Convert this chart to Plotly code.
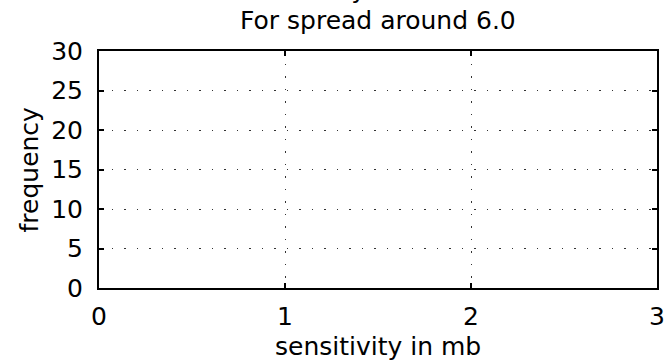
import plotly.graph_objects as go

# Histogram of sensitivities (no cases fall in this spread bin)
sensitivity_values = []

x_tick_vals = [0, 1, 2, 3]
y_tick_vals = [0, 5, 10, 15, 20, 25, 30]

title_line1 = "Sensitivity Distribution"
title_line2 = "For spread around 6.0"
x_label = "sensitivity in mb"
y_label = "frequency"

FONT = "DejaVu Sans"
FONT_SIZE = 25
W, H = 671, 361
L, R, T, B = 99, 6, 51, 73
plot_w = W - L - R
plot_h = H - T - B


def px_to_paper_x(px):
    return (px - L) / plot_w


def px_to_paper_y(py):
    return (H - B - py) / plot_h


fig = go.Figure()
fig.add_trace(go.Histogram(x=sensitivity_values, marker_color="#00008f",
                           xbins=dict(start=0, end=3, size=0.1)))

axis_common = dict(
    showline=True, linecolor="black", linewidth=2, mirror="ticks",
    ticks="inside", ticklen=5, tickwidth=1.5, tickcolor="black",
    showgrid=True, gridcolor="#333333", gridwidth=1, griddash="1.5px,11px",
    zeroline=False,
    tickfont=dict(family=FONT, size=FONT_SIZE, color="black"),
)

fig.update_xaxes(range=[0, 3], tickvals=x_tick_vals, ticklabelstandoff=5,
                 **axis_common)
fig.update_yaxes(range=[0, 30], tickvals=y_tick_vals, ticklabelstandoff=9,
                 **axis_common)

annotations = [
    dict(text=title_line1, x=0.5, y=px_to_paper_y(-11), yanchor="middle"),
    dict(text=title_line2, x=0.5, y=px_to_paper_y(21), yanchor="middle"),
    dict(text=x_label, x=0.5, y=px_to_paper_y(346), yanchor="middle"),
    dict(text=y_label, x=px_to_paper_x(29), y=0.5, yanchor="middle",
         textangle=-90),
]
for a in annotations:
    fig.add_annotation(xref="paper", yref="paper", showarrow=False,
                       xanchor="center",
                       font=dict(family=FONT, size=FONT_SIZE, color="black"),
                       **a)

fig.update_layout(
    width=W, height=H,
    margin=dict(l=L, r=R, t=T, b=B, pad=0),
    paper_bgcolor="white", plot_bgcolor="white",
    showlegend=False,
)

fig.write_html("out.html")
